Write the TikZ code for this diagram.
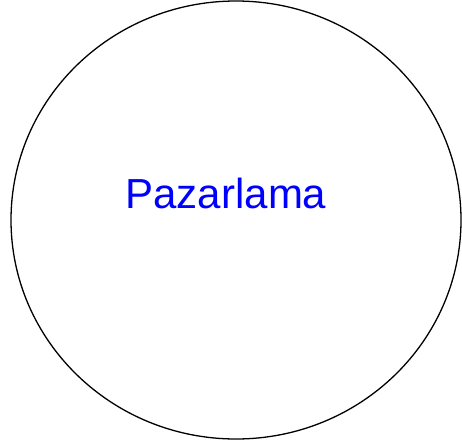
\documentclass[tikz,border=0pt]{standalone}
\usepackage{fontspec}
\setmainfont{Liberation Sans}
\usepackage{xcolor}
\usepackage{tikz}
\usetikzlibrary{shapes.geometric}
\definecolor{labelblue}{HTML}{0000FF}
\tikzset{
  topic oval/.style={
    ellipse,
    draw=black,
    line width=1.3pt,
    minimum width=450pt,
    minimum height=438pt,
    inner sep=0pt
  },
  topic label/.style={
    text=labelblue,
    font=\fontsize{42}{48}\selectfont,
    inner sep=0pt
  }
}
\begin{document}
\begin{tikzpicture}[x=1pt, y=-1pt]
  \useasboundingbox (0,0) rectangle (462,444);
  \node[topic oval] (oval) at (236,220) {};
  \node[topic label, anchor=base] (name) at (226,208) {Pazarlama};
\end{tikzpicture}
\end{document}
